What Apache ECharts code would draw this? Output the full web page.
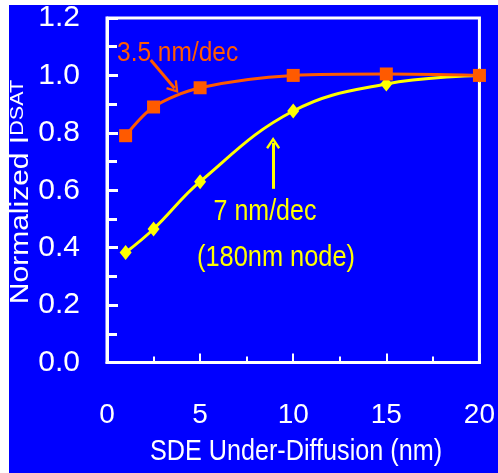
<!DOCTYPE html>
<html>
<head>
<meta charset="utf-8">
<script src="https://cdn.jsdelivr.net/npm/echarts@6/dist/echarts.min.js"></script>
<style>
html,body{margin:0;padding:0;background:#fff;}
#chart{width:498px;height:473px;}
</style>
</head>
<body>
<div id="chart"></div>
<script>
// Data
const xValues = [1, 2.5, 5, 10, 15, 20];
const steep = [0.79, 0.89, 0.957, 1.0, 1.005, 1.0];      // 3.5 nm/dec
const gradual = [0.383, 0.465, 0.63, 0.876, 0.97, 1.0];  // 7 nm/dec (180nm node)
const yTicks = [0, 0.2, 0.4, 0.6, 0.8, 1.0, 1.2];
const xTicks = [0, 5, 10, 15, 20];
const xName = 'SDE Under-Diffusion (nm)';
const yNameMain = 'Normalized I';
const yNameSub = 'DSAT';
const label1 = '3.5 nm/dec';
const label2a = '7 nm/dec';
const label2b = '(180nm node)';
const arrow1 = [[2.35, 1.054], [3.63, 0.955]];
const arrow2 = [[8.92, 0.605], [8.92, 0.765]];

const SANS = '"Liberation Sans", Arial, sans-serif';
const ORANGE = '#FF5A00';
const YELLOW = '#FFFF00';
const BLUE = '#0000FF';
const chevron = 'path://M5,0 L10,8 L8.6,9 L5,3.2 L1.4,9 L0,8 Z';

const chart = echarts.init(document.getElementById('chart'), null, {renderer: 'canvas'});

function pairs(vals) { return xValues.map((x, i) => [x, vals[i]]); }

function label(text, x, y, size, color, align) {
  return { type: 'text', z: 10, x: x, y: y, scaleY: 1.16,
    style: { text: text, font: size + 'px ' + SANS, fill: color, verticalAlign: 'middle', align: align } };
}

const option = {
  backgroundColor: '#ffffff',
  animation: false,
  graphic: [
    { type: 'rect', z: -10, shape: { x: 9, y: 5, width: 489, height: 468 }, style: { fill: BLUE } },
    {
      type: 'text', z: 10, x: 21, y: 192, rotation: Math.PI / 2, scaleX: 1.2,
      style: {
        text: '{a|' + yNameMain + '}{b|' + yNameSub + '}',
        align: 'center', verticalAlign: 'middle', fill: '#fff',
        rich: {
          a: { fontFamily: SANS, fontSize: 25, fill: '#fff' },
          b: { fontFamily: SANS, fontSize: 18, fill: '#fff', padding: [0, 0, 5, 0] }
        }
      }
    },
    label(label1, 117, 53, 24.5, ORANGE, 'left'),
    label(label2a, 265, 212, 25, YELLOW, 'center'),
    label(label2b, 276, 258, 25.4, YELLOW, 'center'),
    label(xName, 296, 452, 25.2, '#fff', 'center')
  ],
  grid: {
    show: true, left: 107, right: 10.5, top: 18, bottom: 110.5,
    borderColor: '#fff', borderWidth: 3, backgroundColor: 'transparent'
  },
  xAxis: {
    type: 'value', min: 0, max: 20, interval: 5,
    axisLine: { show: true, lineStyle: { color: '#fff', width: 3 } },
    axisTick: { show: true, inside: true, length: 9, lineStyle: { color: '#fff', width: 2 } },
    minorTick: { show: true, splitNumber: 2, length: 6, lineStyle: { color: '#fff', width: 2 } },
    splitLine: { show: false },
    axisLabel: { color: '#fff', fontFamily: SANS, fontSize: 28, margin: 39,
      formatter: v => xTicks.includes(v) ? String(v) : '' }
  },
  yAxis: {
    type: 'value', min: 0, max: 1.2, interval: 0.2,
    axisLine: { show: true, lineStyle: { color: '#fff', width: 3 } },
    axisTick: { show: true, inside: true, length: 11, lineStyle: { color: '#fff', width: 3 } },
    minorTick: { show: true, splitNumber: 2, length: 10, lineStyle: { color: '#fff', width: 3 } },
    splitLine: { show: false },
    axisLabel: { color: '#fff', fontFamily: SANS, fontSize: 30, margin: 27,
      formatter: v => {
        const t = yTicks.find(k => Math.abs(k - v) < 1e-6);
        return t === undefined ? '' : t.toFixed(1);
      } }
  },
  series: [
    {
      name: label2a, type: 'line', data: pairs(gradual), smooth: 0.4,
      symbol: 'diamond', symbolSize: [12, 15],
      lineStyle: { color: YELLOW, width: 3 },
      itemStyle: { color: YELLOW },
      markLine: {
        silent: true, symbol: ['none', chevron], symbolSize: [14, 12],
        lineStyle: { color: YELLOW, width: 3, type: 'solid' },
        label: { show: false },
        data: [[{ coord: arrow2[0] }, { coord: arrow2[1] }]]
      }
    },
    {
      name: label1, type: 'line', data: pairs(steep), smooth: 0.3,
      symbol: 'rect', symbolSize: 13,
      lineStyle: { color: ORANGE, width: 3 },
      itemStyle: { color: ORANGE },
      markLine: {
        silent: true, symbol: ['none', chevron], symbolSize: [14, 12],
        lineStyle: { color: ORANGE, width: 3, type: 'solid' },
        label: { show: false },
        data: [[{ coord: arrow1[0] }, { coord: arrow1[1] }]]
      }
    }
  ]
};
chart.setOption(option);
</script>
</body>
</html>
